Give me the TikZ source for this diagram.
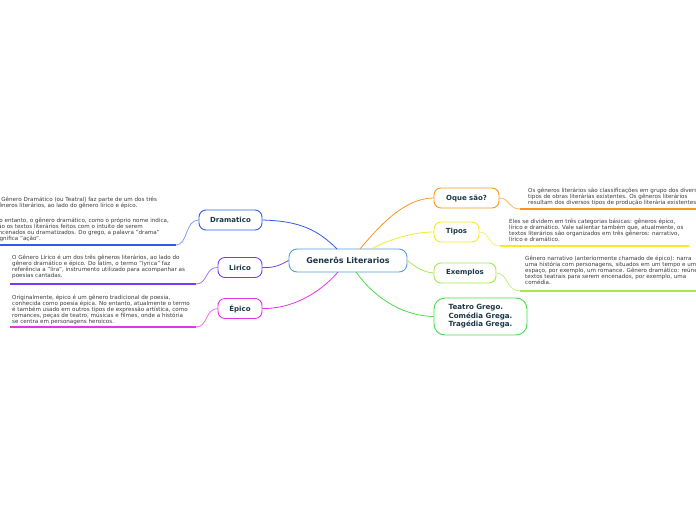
\documentclass[tikz,border=0pt]{standalone}
\usepackage{fontspec}
\setmainfont{DejaVu Sans}
\begin{document}
\begin{tikzpicture}[x=1pt,y=-1pt,
  branch/.style={draw=#1, line width=0.9pt, fill=white, rounded corners=7pt, minimum height=20pt, inner xsep=4pt, text=labelc, font=\fontsize{7}{8.5}\selectfont\bfseries},
  note/.style={anchor=north west, inner sep=0pt, align=left, text=notec, font=\fontsize{5.6}{6}\selectfont},
  link/.style={draw=#1, line width=0.8pt},
  uline/.style={draw=#1, line width=1.4pt}]
\definecolor{labelc}{HTML}{1B3848}
\definecolor{notec}{HTML}{3A3A3A}
\definecolor{cblue}{HTML}{5B9BD5}
\definecolor{cdram}{HTML}{2F5BEA}
\definecolor{clir}{HTML}{7A3CF0}
\definecolor{cepi}{HTML}{E534E5}
\definecolor{corg}{HTML}{F7981E}
\definecolor{cyel}{HTML}{F2EA2A}
\definecolor{clgr}{HTML}{A5E84B}
\definecolor{cgrn}{HTML}{46DD46}
\useasboundingbox (0,0) rectangle (696,520);
\clip (0,0) rectangle (696,520);

% central
\node[draw=cblue, line width=0.9pt, fill=white, rounded corners=8pt, minimum width=118pt, minimum height=23pt, text=labelc, font=\fontsize{8}{9.5}\selectfont\bfseries] (c) at (348,260.5) {Generôs Literarios};

% branches
\node[branch=cdram, minimum width=63pt] (dram) at (230.5,220) {Dramatico};
\node[branch=clir, minimum width=44pt] (lir) at (240,267.5) {Lirico};
\node[branch=cepi, minimum width=44pt] (epi) at (240,308.5) {Épico};
\node[branch=corg, minimum width=65pt] (oque) at (466.5,198) {Oque são?};
\node[branch=cyel, minimum width=45pt] (tipos) at (456.5,232) {Tipos};
\node[branch=clgr, minimum width=62pt] (ex) at (465,273) {Exemplos};
\node[branch=cgrn, minimum width=93pt, minimum height=37pt, rounded corners=11pt, align=left, font=\fontsize{7.1}{8.6}\selectfont\bfseries] (teat) at (480.5,316.5) {Teatro Grego.\\Comédia Grega.\\Tragédia Grega.};

% attachment points on central node
\coordinate (cD) at (337,249);
\coordinate (cO) at (360,249);
\coordinate (cT) at (371,249);
\coordinate (cE) at (338,272);
\coordinate (cG) at (356,272);

% central connectors
\draw[link=cdram] (dram.east) .. controls (300,221) and (318,230) .. (cD);
\draw[link=clir] (lir.east) .. controls (275,268) and (280,265) .. (c.west);
\draw[link=cepi] (epi.east) .. controls (290,309) and (318,295) .. (cE);
\draw[link=corg] (cO) .. controls (380,225) and (405,198) .. (oque.west);
\draw[link=cyel] (cT) .. controls (392,238) and (415,232) .. (tipos.west);
\draw[link=clgr] (c.east) .. controls (418,269) and (424,272) .. (ex.west);
\draw[link=cgrn] (cG) .. controls (376,300) and (405,316) .. (teat.west);

% notes
\node[note] (nd) at (-5,197) {O Gênero Dramático (ou Teatral) faz parte de um dos três\\gêneros literários, ao lado do gênero lírico e épico.\\[9pt]No entanto, o gênero dramático, como o próprio nome indica,\\são os textos literários feitos com o intuito de serem\\encenados ou dramatizados. Do grego, a palavra "drama"\\significa "ação".};
\node[note] (nl) at (12,254.5) {O Gênero Lírico é um dos três gêneros literários, ao lado do\\gênero dramático e épico. Do latim, o termo "lyrica" faz\\referência a "lira", instrumento utilizado para acompanhar as\\poesias cantadas.};
\node[note] (ne) at (12,294.5) {Originalmente, épico é um gênero tradicional de poesia,\\conhecida como poesia épica. No entanto, atualmente o termo\\é também usado em outros tipos de expressão artística, como\\romances, peças de teatro, músicas e filmes, onde a história\\se centra em personagens heroicos.};
\node[note] (no) at (528,187.5) {Os gêneros literários são classificações em grupo dos diversos\\tipos de obras literárias existentes. Os gêneros literários\\resultam dos diversos tipos de produção literária existentes.};
\node[note] (nt) at (509,218.5) {Eles se dividem em três categorias básicas: gêneros épico,\\lírico e dramático. Vale salientar também que, atualmente, os\\textos literários são organizados em três gêneros: narrativo,\\lírico e dramático.};
\node[note] (nx) at (525,256) {Gênero narrativo (anteriormente chamado de épico): narra\\uma história com personagens, situados em um tempo e um\\espaço, por exemplo, um romance. Gênero dramático: reúne\\textos teatrais para serem encenados, por exemplo, uma\\comédia.};

% underline coordinates
\coordinate (udL) at (0,245);   \coordinate (udR) at (176,245);
\coordinate (ulL) at (10,284);  \coordinate (ulR) at (196,284);
\coordinate (ueL) at (10,327);  \coordinate (ueR) at (196,327);
\coordinate (uoL) at (520,209); \coordinate (uoR) at (696,209);
\coordinate (utL) at (500,246); \coordinate (utR) at (689,246);
\coordinate (uxL) at (520,291); \coordinate (uxR) at (696,291);

% note connectors + underlines
\draw[link=cdram!60] (dram.west) .. controls (185,220) and (188,245) .. (udR);
\draw[uline=cdram] (udR) -- (udL);
\draw[link=clir!70] (lir.west) .. controls (205,267) and (208,284) .. (ulR);
\draw[uline=clir] (ulR) -- (ulL);
\draw[link=cepi!70] (epi.west) .. controls (205,309) and (208,327) .. (ueR);
\draw[uline=cepi] (ueR) -- (ueL);
\draw[link=corg!70] (oque.east) .. controls (510,198) and (508,209) .. (uoL);
\draw[uline=corg] (uoL) -- (uoR);
\draw[link=cyel!70] (tipos.east) .. controls (490,232) and (488,246) .. (utL);
\draw[uline=cyel] (utL) -- (utR);
\draw[link=clgr!70] (ex.east) .. controls (508,273) and (506,291) .. (uxL);
\draw[uline=clgr] (uxL) -- (uxR);
\end{tikzpicture}
\end{document}
